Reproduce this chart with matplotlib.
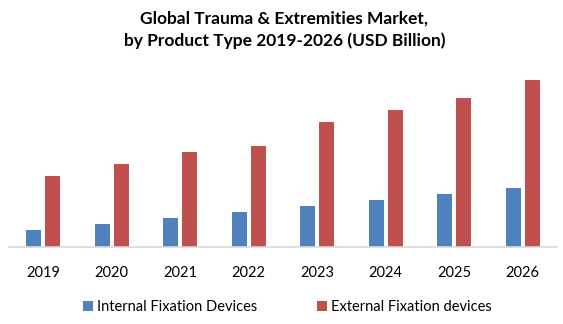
import numpy as np
import matplotlib.pyplot as plt

plt.rcParams['font.family'] = ['Lato', 'DejaVu Sans']

years = ['2019', '2020', '2021', '2022', '2023', '2024', '2025', '2026']
internal = [1.7, 2.3, 2.9, 3.5, 4.1, 4.7, 5.3, 5.9]
external = [7.1, 8.3, 9.5, 10.1, 12.5, 13.7, 14.9, 16.7]

fig = plt.figure(figsize=(5.63, 3.24), dpi=100)
ax = fig.add_axes([0.016, 0.238, 0.973, 0.577])

x = np.arange(len(years))
w = 0.22
b1 = ax.bar(x - 0.139, internal, w, color='#4F81BD', label='Internal Fixation Devices')
b2 = ax.bar(x + 0.139, external, w, color='#C0504D', label='External Fixation devices')

ax.set_xlim(-0.5, len(years) - 0.5)
ax.set_ylim(0, 18.7)
ax.set_xticks(x)
ax.set_xticklabels(years, fontsize=10.5)
ax.tick_params(axis='x', length=0, pad=14)
ax.set_yticks([])
for s in ['top', 'right', 'left']:
    ax.spines[s].set_visible(False)
ax.spines['bottom'].set_color('#D9D9D9')
ax.spines['bottom'].set_linewidth(1.2)

fig.text(0.505, 0.908, 'Global Trauma & Extremities Market,\nby Product Type 2019-2026 (USD Billion)',
         ha='center', va='center', fontsize=12.5, fontweight='bold', linespacing=1.45)

fig.legend(handles=[b1, b2], loc='center', bbox_to_anchor=(0.511, 0.053), ncol=2,
           frameon=False, fontsize=10.5, handlelength=0.65, handleheight=0.65,
           handletextpad=0.3, columnspacing=4.1)

fig.savefig('out.png', dpi=100)
